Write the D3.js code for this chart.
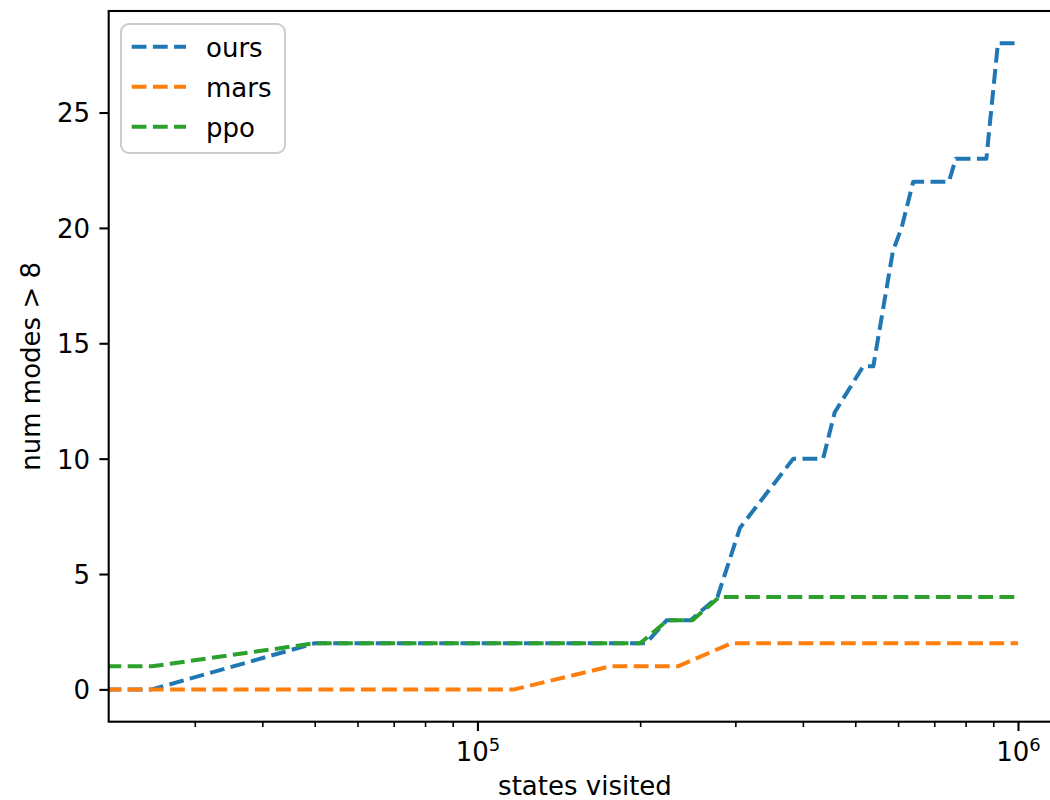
<!DOCTYPE html>
<html>
<head>
<meta charset="utf-8">
<script src="https://cdn.jsdelivr.net/npm/d3@7"></script>
<style>
  body { margin: 0; background: #fff; }
  text { font-family: "DejaVu Sans", sans-serif; }
</style>
</head>
<body>
<div id="chart"></div>
<script>
// data (states visited, num modes > 8)
var oursStates = [10000, 25000, 50000, 205000, 224000, 248000, 278000, 306000, 384000, 436000, 458000, 517000, 540000, 587000, 609000, 640000, 745000, 767000, 874000, 918000, 1000000];
var oursModes  = [0, 0, 2, 2, 3, 3, 4, 7, 10, 10, 12, 14, 14, 19, 20, 22, 22, 23, 23, 28, 28];

var marsStates = [10000, 117000, 176000, 235000, 295000, 1000000];
var marsModes  = [0, 0, 1, 1, 2, 2];

var ppoStates = [10000, 25000, 50000, 200000, 225000, 250000, 280000, 1000000];
var ppoModes  = [1, 1, 2, 2, 3, 3, 4, 4];

var seriesNames  = ["ours", "mars", "ppo"];
var seriesColors = ["#1f77b4", "#ff7f0e", "#2ca02c"];

var yTicks = [0, 5, 10, 15, 20, 25];
var xMajor = [1e5, 1e6];
var xMinor = [3e4, 4e4, 5e4, 6e4, 7e4, 8e4, 9e4, 2e5, 3e5, 4e5, 5e5, 6e5, 7e5, 8e5, 9e5];

// set the dimensions and margins of the graph
var margin = {top: 11, left: 108.7},
    width = 952.6,
    height = 710.7;

var svg = d3.select("#chart")
  .append("svg")
    .attr("width", 1050)
    .attr("height", 800)
  .append("g")
    .attr("transform", "translate(" + margin.left + "," + margin.top + ")");

var x = d3.scaleLog()
  .domain([20790, 1.2026e6])
  .range([0, width]);

var y = d3.scaleLinear()
  .domain([-1.4, 29.4])
  .range([height, 0]);

svg.append("clipPath")
    .attr("id", "clip")
  .append("rect")
    .attr("width", width)
    .attr("height", height);

// Y axis
var gy = svg.append("g")
  .call(d3.axisLeft(y).tickValues(yTicks).tickSize(9.3).tickPadding(9.3));
gy.select(".domain").remove();
gy.selectAll(".tick line").attr("stroke", "#000").attr("stroke-width", 2.1);
gy.selectAll(".tick text")
  .attr("fill", "#000")
  .attr("dy", "0.36em")
  .style("font-size", "26px");

// X axis, minor ticks
var gxm = svg.append("g")
  .attr("transform", "translate(0," + height + ")")
  .call(d3.axisBottom(x).tickValues(xMinor).tickSize(5.3).tickFormat(""));
gxm.select(".domain").remove();
gxm.selectAll(".tick line").attr("stroke", "#000").attr("stroke-width", 1.6);

// X axis, major ticks with 10^n labels
var gx = svg.append("g")
  .attr("transform", "translate(0," + height + ")")
  .call(d3.axisBottom(x).tickValues(xMajor).tickSize(9.3).tickPadding(12));
gx.select(".domain").remove();
gx.selectAll(".tick line").attr("stroke", "#000").attr("stroke-width", 2.1);
gx.selectAll(".tick text")
  .attr("fill", "#000")
  .style("font-size", "26px")
  .each(function(d) {
    var t = d3.select(this);
    t.text("");
    t.append("tspan").text("10");
    t.append("tspan")
      .attr("dy", "-10.7")
      .style("font-size", "18px")
      .text(Math.round(Math.log10(d)));
  });

// lines
var line = d3.line()
  .x(function(d) { return x(d[0]); })
  .y(function(d) { return y(d[1]); });

var seriesData = [
  d3.zip(oursStates, oursModes),
  d3.zip(marsStates, marsModes),
  d3.zip(ppoStates, ppoModes)
];

svg.append("g")
    .attr("clip-path", "url(#clip)")
  .selectAll("path")
  .data(seriesData)
  .enter()
  .append("path")
    .attr("d", line)
    .attr("fill", "none")
    .attr("stroke", function(d, i) { return seriesColors[i]; })
    .attr("stroke-width", 4)
    .attr("stroke-dasharray", "14.8,6.4")
    .attr("stroke-linejoin", "round");

// frame
svg.append("rect")
  .attr("width", width)
  .attr("height", height)
  .attr("fill", "none")
  .attr("stroke", "#000")
  .attr("stroke-width", 2.1);

// legend
var legend = svg.append("g")
  .attr("transform", "translate(" + (121 - margin.left) + "," + (24 - margin.top) + ")");

legend.append("rect")
  .attr("width", 164)
  .attr("height", 129)
  .attr("rx", 8)
  .attr("fill", "#fff")
  .attr("fill-opacity", 0.8)
  .attr("stroke", "#cccccc")
  .attr("stroke-width", 2);

seriesNames.forEach(function(name, i) {
  var base = 32.7 + i * 40;
  legend.append("line")
    .attr("x1", 10.7).attr("x2", 65)
    .attr("y1", base - 10).attr("y2", base - 10)
    .attr("stroke", seriesColors[i])
    .attr("stroke-width", 4)
    .attr("stroke-dasharray", "14.8,6.4");
  legend.append("text")
    .attr("x", 85)
    .attr("y", base)
    .style("font-size", "26px")
    .text(name);
});

// axis labels
svg.append("text")
  .attr("x", width / 2)
  .attr("y", 795 - margin.top)
  .attr("text-anchor", "middle")
  .style("font-size", "26px")
  .text("states visited");

svg.append("text")
  .attr("transform", "rotate(-90)")
  .attr("x", -height / 2)
  .attr("y", 40 - margin.left)
  .attr("text-anchor", "middle")
  .style("font-size", "26px")
  .text("num modes > 8");
</script>
</body>
</html>
